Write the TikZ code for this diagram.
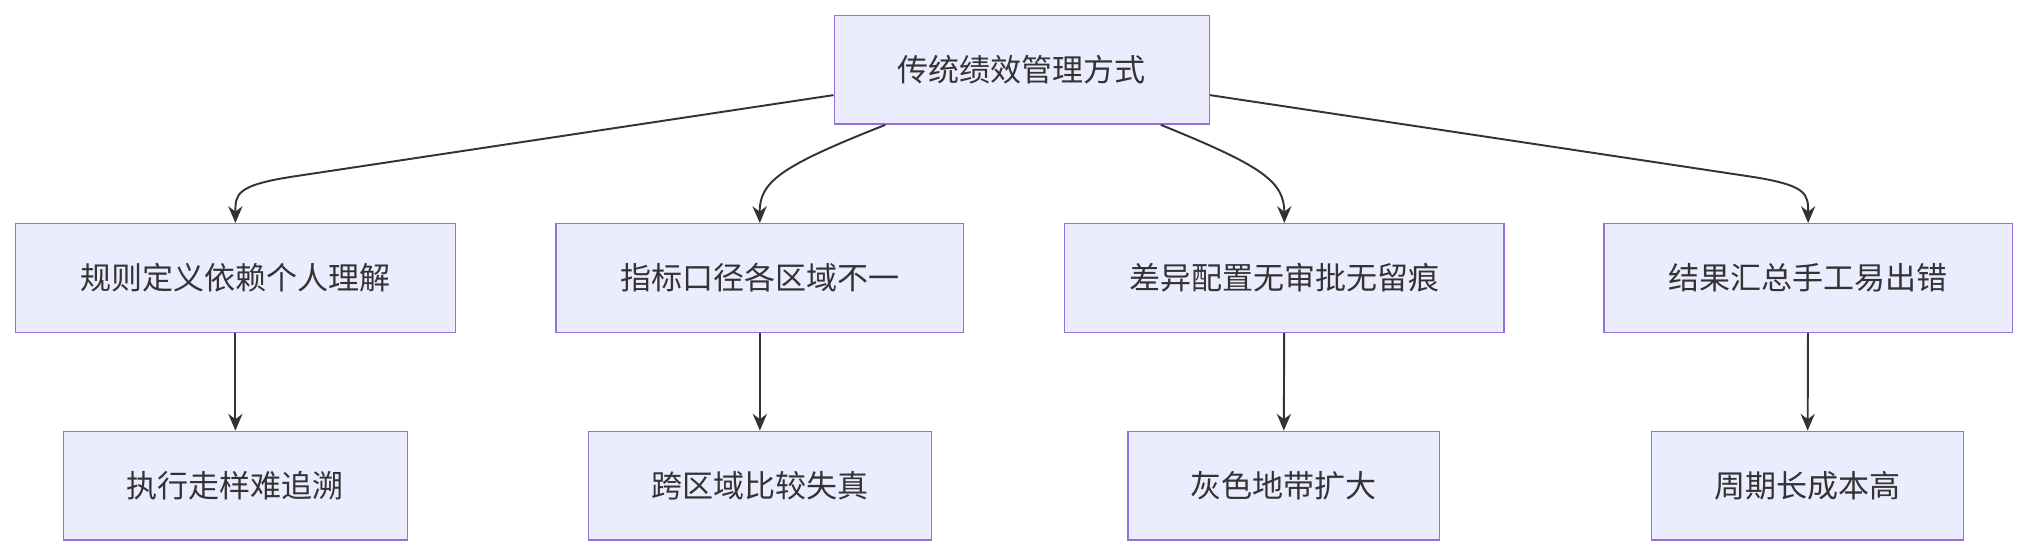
\documentclass[tikz,border=0pt]{standalone}
\usepackage{fontspec}
\setmainfont{Noto Sans CJK SC}
\usetikzlibrary{arrows.meta}
\definecolor{bfill}{HTML}{ECECFF}
\definecolor{bdraw}{HTML}{9370DB}
\definecolor{ln}{HTML}{333333}
\begin{document}
\begin{tikzpicture}[x=1pt,y=-1pt,
  box/.style={draw=bdraw,fill=bfill,line width=1.1pt,inner sep=0pt,font=\fontsize{24}{28}\selectfont,text=ln,minimum height=84pt},
  conn/.style={draw=ln,line width=1.5pt,-{Stealth[length=13pt,width=11pt]}}]
\useasboundingbox (0,0) rectangle (1568,430);
\node[box,minimum width=290pt] (t) at (790,54) {传统绩效管理方式};
\node[box,minimum width=340pt] (a) at (182,215) {规则定义依赖个人理解};
\node[box,minimum width=315pt] (b) at (587.5,215) {指标口径各区域不一};
\node[box,minimum width=340pt] (c) at (993,215) {差异配置无审批无留痕};
\node[box,minimum width=316pt] (d) at (1398,215) {结果汇总手工易出错};
\node[box,minimum width=266pt] (a2) at (182,375.5) {执行走样难追溯};
\node[box,minimum width=265pt] (b2) at (587.5,375.5) {跨区域比较失真};
\node[box,minimum width=241pt] (c2) at (992.5,375.5) {灰色地带扩大};
\node[box,minimum width=241pt] (d2) at (1397.5,375.5) {周期长成本高};
\draw[conn] (t.south west)++(0,-23) -- (230,136) .. controls (182,143) and (182,150) .. (a.north);
\draw[conn] (t.south west)++(40,0) .. controls (605,128) and (587,140) .. (b.north);
\draw[conn] (t.south east)++(-38,0) .. controls (975,128) and (993,140) .. (c.north);
\draw[conn] (t.south east)++(0,-23) -- (1350,136) .. controls (1398,143) and (1398,150) .. (d.north);
\draw[conn] (a) -- (a2);
\draw[conn] (b) -- (b2);
\draw[conn] (c) -- (c2);
\draw[conn] (d) -- (d2);
\end{tikzpicture}
\end{document}
